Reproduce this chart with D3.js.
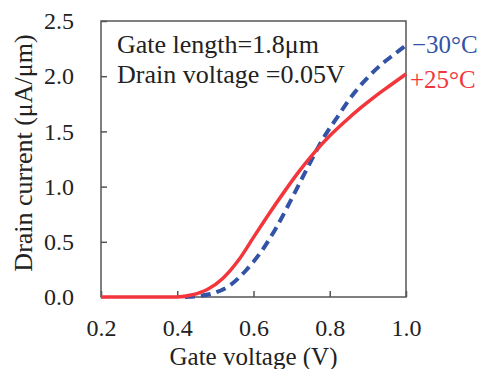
<!DOCTYPE html>
<html>
<head>
<meta charset="utf-8">
<script src="https://cdn.jsdelivr.net/npm/d3@7"></script>
<style>
  html, body { margin: 0; padding: 0; background: #fff; }
  svg { display: block; }
  text { font-family: "Liberation Serif", "Times New Roman", serif; }
</style>
</head>
<body>
<svg id="chart" width="481" height="369"></svg>
<script>
// ---- data ----
const gateV25 = [0.2, 0.3, 0.4, 0.44, 0.48, 0.52, 0.56, 0.6, 0.64, 0.68, 0.72, 0.76, 0.8, 0.84, 0.88, 0.92, 0.96, 1.0];
const current25 = [0, 0, 0, 0.02, 0.07, 0.17, 0.33, 0.54, 0.75, 0.95, 1.14, 1.31, 1.46, 1.59, 1.71, 1.82, 1.92, 2.02];
const gateVm30 = [0.42, 0.46, 0.5, 0.54, 0.58, 0.62, 0.66, 0.70, 0.74, 0.78, 0.82, 0.86, 0.90, 0.94, 0.97, 1.0];
const currentm30 = [0, 0.01, 0.04, 0.11, 0.24, 0.41, 0.63, 0.89, 1.16, 1.42, 1.63, 1.83, 1.99, 2.12, 2.20, 2.28];
const xTicks = [0.2, 0.4, 0.6, 0.8, 1.0];
const yTicks = [0.0, 0.5, 1.0, 1.5, 2.0, 2.5];
const seriesLabels = ["\u221230\u00b0C", "+25\u00b0C"];
const annotations = ["Gate length=1.8\u03bcm", "Drain voltage =0.05V"];
const xTitle = "Gate voltage (V)";
const yTitle = "Drain current (\u03bcA/\u03bcm)";

// ---- layout ----
const mL = 101, mR = 406, mT = 21, mB = 297;
const RED = "#f2363c", BLUE = "#3253a6", AX = "#555";

const svg = d3.select("#chart");
const x = d3.scaleLinear().domain([0.2, 1.0]).range([mL, mR]);
const y = d3.scaleLinear().domain([0, 2.5]).range([mB, mT]);

// axes
const xAxis = d3.axisBottom(x).tickValues(xTicks).tickFormat(d3.format(".1f"))
  .tickSizeInner(-6).tickSizeOuter(0).tickPadding(22);
const yAxis = d3.axisLeft(y).tickValues(yTicks).tickFormat(d3.format(".1f"))
  .tickSizeInner(-6).tickSizeOuter(0).tickPadding(27);

const gx = svg.append("g").attr("transform", `translate(0,${mB})`).call(xAxis);
const gy = svg.append("g").attr("transform", `translate(${mL},0)`).call(yAxis);
[gx, gy].forEach(g => {
  g.select(".domain").remove();
  g.selectAll(".tick line").attr("stroke", AX).attr("stroke-width", 1.5);
  g.selectAll(".tick text").attr("fill", "#222").style("font-size", "24px")
   .style("font-family", "'Liberation Serif', serif");
});

// frame
svg.append("rect").attr("x", mL).attr("y", mT)
  .attr("width", mR - mL).attr("height", mB - mT)
  .attr("fill", "none").attr("stroke", AX).attr("stroke-width", 1.5);

// curves
const line = d3.line().x(d => x(d[0])).y(d => y(d[1])).curve(d3.curveMonotoneX);
const dataM30 = gateVm30.map((v, i) => [v, currentm30[i]]);
const data25 = gateV25.map((v, i) => [v, current25[i]]);

svg.append("path").datum(dataM30).attr("d", line)
  .attr("fill", "none").attr("stroke", BLUE).attr("stroke-width", 4)
  .attr("stroke-dasharray", "10,6");
svg.append("path").datum(data25).attr("d", line)
  .attr("fill", "none").attr("stroke", RED).attr("stroke-width", 3.5);

// annotations
svg.append("text").attr("x", 117).attr("y", 53).attr("fill", "#222")
  .style("font-size", "26px").text(annotations[0]);
svg.append("text").attr("x", 117).attr("y", 83).attr("fill", "#222")
  .style("font-size", "26px").text(annotations[1]);

// series labels
svg.append("text").attr("x", 412).attr("y", 53).attr("fill", BLUE)
  .style("font-size", "25px").text(seriesLabels[0]);
svg.append("text").attr("x", 410).attr("y", 88).attr("fill", RED)
  .style("font-size", "25px").text(seriesLabels[1]);

// axis titles
svg.append("text").attr("x", (mL + mR) / 2).attr("y", 365)
  .attr("text-anchor", "middle").attr("fill", "#222")
  .style("font-size", "25px").text(xTitle);
svg.append("text").attr("transform", "translate(32,153) rotate(-90)")
  .attr("text-anchor", "middle").attr("fill", "#222")
  .style("font-size", "26px").text(yTitle);
</script>
</body>
</html>
